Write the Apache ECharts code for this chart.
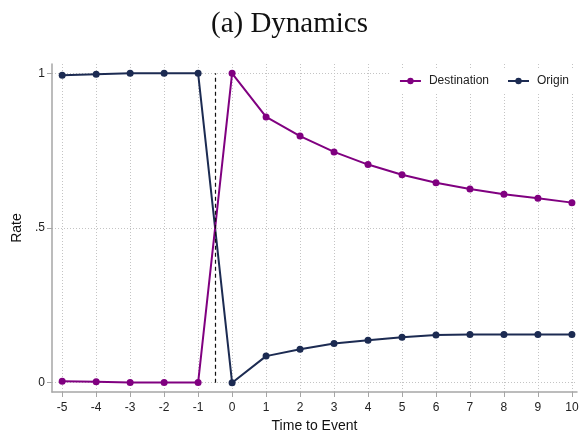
<!DOCTYPE html>
<html><head><meta charset="utf-8">
<script src="https://cdn.jsdelivr.net/npm/echarts@6/dist/echarts.min.js"></script>
<style>html,body{margin:0;padding:0;background:#fff}#c{width:579px;height:432px}</style>
</head><body><div id="c"></div>
<script>
const xValues = [-5,-4,-3,-2,-1,0,1,2,3,4,5,6,7,8,9,10];
const destination = [0.005,0.003,0.001,0.0005,0.0005,1.0,0.859,0.797,0.746,0.705,0.672,0.646,0.626,0.609,0.596,0.582];
const origin = [0.994,0.997,1.0,1.0,1.0,0.0,0.086,0.108,0.127,0.137,0.147,0.154,0.156,0.156,0.156,0.156];
const yTicks = [0, 0.5, 1];
const yTickLabels = ['0', '.5', '1'];
const eventLineX = -0.5;

const chart = echarts.init(document.getElementById('c'), null, {renderer:'canvas'});
const axisCol = '#a6a6a6';
const gridCol = '#c4c4c4';
chart.setOption({
  animation:false,
  backgroundColor:'#fff',
  title:{text:'(a) Dynamics', left:'center', top:5,
    textStyle:{fontFamily:'Liberation Serif', fontWeight:'normal', fontSize:29, color:'#111'}},
  legend:{right:0, top:69, itemWidth:21, itemHeight:8, itemGap:18,
    padding:[6,10,6,8], backgroundColor:'#fff',
    textStyle:{fontFamily:'Liberation Sans', fontSize:12, color:'#222', padding:[0,0,0,3]},
    data:['Destination','Origin']},
  grid:{left:52, right:2, top:64, bottom:40, containLabel:false, outerBoundsMode:'none'},
  xAxis:{type:'value', min:-5.3, max:10.15,
    name:'Time to Event', nameLocation:'middle', nameGap:25,
    nameTextStyle:{fontFamily:'Liberation Sans', fontSize:14, color:'#111'},
    axisLine:{show:true, onZero:false, lineStyle:{color:axisCol, width:1.5}},
    axisTick:{show:true, length:5, customValues:xValues, lineStyle:{color:axisCol}},
    axisLabel:{customValues:xValues, fontFamily:'Liberation Sans', fontSize:12, color:'#222', margin:10},
    splitLine:{show:true, lineStyle:{color:gridCol, type:[1,2], width:1}}
  },
  yAxis:{type:'value', min:-0.03, max:1.03,
    name:'Rate', nameLocation:'middle', nameGap:22, nameRotate:90,
    nameTextStyle:{fontFamily:'Liberation Sans', fontSize:14, color:'#111'},
    axisLine:{show:true, onZero:false, lineStyle:{color:axisCol, width:1.5}},
    axisTick:{show:true, length:5, customValues:yTicks, lineStyle:{color:axisCol}},
    axisLabel:{customValues:yTicks, fontFamily:'Liberation Sans', fontSize:12, color:'#222', margin:7,
      formatter:function(v){const i=yTicks.indexOf(v);return i>=0?yTickLabels[i]:'';}},
    splitLine:{show:true, lineStyle:{color:gridCol, type:[1,2], width:1}}
  },
  series:[
    {name:'Destination', type:'line', data:xValues.map((x,i)=>[x,destination[i]]),
      color:'#800080', symbol:'circle', symbolSize:7, lineStyle:{width:2}, z:3,
      markLine:{silent:true, symbol:'none', label:{show:false},
        lineStyle:{color:'#111', type:[4,3], width:1.2},
        data:[[{coord:[eventLineX,0]},{coord:[eventLineX,1]}]]}},
    {name:'Origin', type:'line', data:xValues.map((x,i)=>[x,origin[i]]),
      color:'#1c2b52', symbol:'circle', symbolSize:7, lineStyle:{width:2}, z:2}
  ]
});
</script></body></html>
